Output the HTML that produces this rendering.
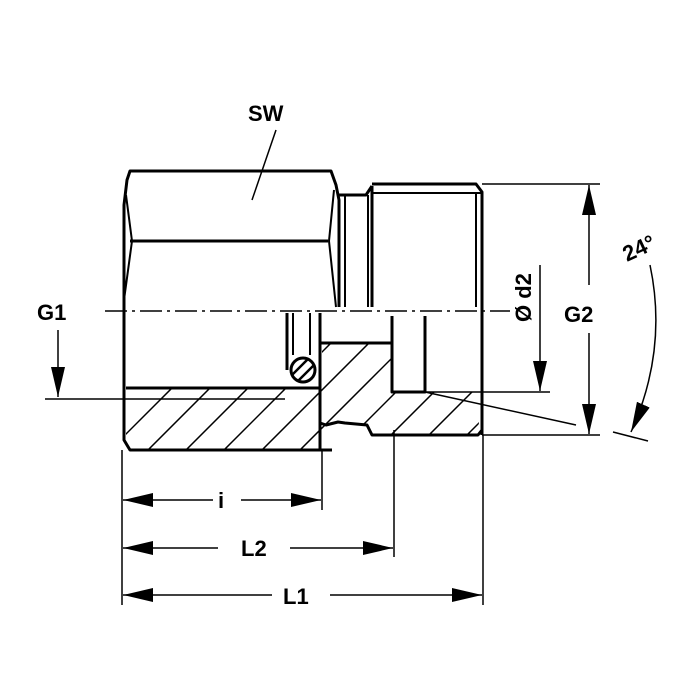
<!DOCTYPE html>
<html><head><style>body{margin:0;background:#fff}svg{display:block}text{font-family:"Liberation Sans",Arial,sans-serif;font-size:22px;font-weight:bold;fill:#000}</style></head><body>
<svg width="700" height="700" viewBox="0 0 700 700" xmlns="http://www.w3.org/2000/svg">
<defs>
<clipPath id="sec"><polygon points="126,388 322,388 322,343 392,343 392,392 482,392 478,432 472,435 372,435 367,425 345,423 340,430 332,450 130,450 126,440"/></clipPath>
<clipPath id="ring"><circle cx="303" cy="370" r="11"/></clipPath>
<marker id="a" markerWidth="30" markerHeight="14" refX="30" refY="7" orient="auto-start-reverse" markerUnits="userSpaceOnUse"><path d="M0,0 L30,7 L0,14 Z" fill="#000"/></marker>
</defs>
<g clip-path="url(#sec)" stroke="#000" stroke-width="1.5">
<line x1="60" y1="500" x2="260" y2="300"/><line x1="98" y1="500" x2="298" y2="300"/><line x1="136" y1="500" x2="336" y2="300"/><line x1="174" y1="500" x2="374" y2="300"/><line x1="212" y1="500" x2="412" y2="300"/><line x1="250" y1="500" x2="450" y2="300"/><line x1="288" y1="500" x2="488" y2="300"/><line x1="326" y1="500" x2="526" y2="300"/><line x1="364" y1="500" x2="564" y2="300"/><line x1="402" y1="500" x2="602" y2="300"/><line x1="440" y1="500" x2="640" y2="300"/><line x1="478" y1="500" x2="678" y2="300"/>
</g>
<g fill="none" stroke="#000" stroke-width="3" stroke-linejoin="round">
<path d="M332,450 L130,450 L124,440 L124,205 L127,180 L130,171 L331,171 L336,185 L339,200 L339,307"/>
<line x1="130" y1="241" x2="328" y2="241"/>
<path d="M126,195 L132,241 L124,300" stroke-width="2"/>
<path d="M334,190 L329,241 L336,307" stroke-width="2"/>
<path d="M339,195 L366,195 L372,186"/>
<line x1="345" y1="195" x2="345" y2="307" stroke-width="2"/>
<line x1="368" y1="195" x2="368" y2="307" stroke-width="2"/>
<path d="M372,186 L372,307"/>
<path d="M372,184 L476,184 L482,192 L482,435"/>
<line x1="372" y1="193" x2="482" y2="193" stroke-width="2"/>
<line x1="476" y1="193" x2="476" y2="307" stroke-width="2"/>
<line x1="126" y1="388" x2="290" y2="388"/>
<path d="M287,313 L287,370 M320,313 L320,450"/>
<line x1="293" y1="313" x2="293" y2="355" stroke-width="2"/>
<line x1="310" y1="313" x2="310" y2="355" stroke-width="2"/>
<path d="M320,343 L392,343 L392,392 L425,392 L425,316 M392,316 L392,343"/>
<path d="M320,423 L326,425 L338,422 L345,423 L367,425 L372,435 L478,435 L482,430"/>
<path d="M290,388 L320,388"/>
</g>
<circle cx="303" cy="370" r="12" fill="#fff" stroke="#000" stroke-width="3"/>
<g clip-path="url(#ring)" stroke="#000" stroke-width="2.5">
<line x1="283" y1="372" x2="303" y2="352"/><line x1="288" y1="379" x2="312" y2="355"/><line x1="294" y1="385" x2="318" y2="361"/><line x1="301" y1="390" x2="323" y2="368"/>
</g>
<line x1="105" y1="311" x2="510" y2="311" stroke="#000" stroke-width="1.5" stroke-dasharray="22,5,3,5"/>
<g stroke="#000" stroke-width="1.5" fill="none">
<line x1="122" y1="450" x2="122" y2="605"/>
<line x1="322" y1="450" x2="322" y2="510"/>
<line x1="394" y1="430" x2="394" y2="557"/>
<line x1="483" y1="435" x2="483" y2="605"/>
<line x1="123" y1="500" x2="213" y2="500" marker-start="url(#a)"/>
<line x1="241" y1="500" x2="321" y2="500" marker-end="url(#a)"/>
<line x1="123" y1="548" x2="218" y2="548" marker-start="url(#a)"/>
<line x1="290" y1="548" x2="393" y2="548" marker-end="url(#a)"/>
<line x1="123" y1="595" x2="272" y2="595" marker-start="url(#a)"/>
<line x1="330" y1="595" x2="482" y2="595" marker-end="url(#a)"/>
<line x1="482" y1="184" x2="600" y2="184"/>
<line x1="482" y1="435" x2="600" y2="435"/>
<line x1="589" y1="185" x2="589" y2="285" marker-start="url(#a)"/>
<line x1="589" y1="333" x2="589" y2="434" marker-end="url(#a)"/>
<line x1="392" y1="392" x2="550" y2="392"/>
<line x1="540" y1="265" x2="540" y2="391" marker-end="url(#a)"/>
<line x1="425" y1="392" x2="576" y2="425"/>
<path d="M650,265 Q668,350 631,432" marker-end="url(#a)"/>
<line x1="613" y1="432" x2="648" y2="441"/>
<line x1="45" y1="399" x2="285" y2="399"/>
<line x1="58" y1="330" x2="58" y2="397" marker-end="url(#a)"/>
<line x1="276" y1="130" x2="252" y2="200"/>
</g>
<text x="248" y="121">SW</text>
<text x="37" y="320">G1</text>
<text x="564" y="322">G2</text>
<text x="218" y="508">i</text>
<text x="241" y="556">L2</text>
<text x="283" y="604">L1</text>
<text transform="translate(531,322) rotate(-90)">Ø d2</text>
<text transform="translate(627,262) rotate(-25)">24°</text>
</svg>
</body></html>
